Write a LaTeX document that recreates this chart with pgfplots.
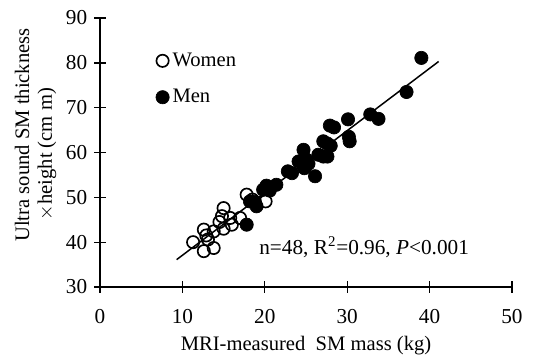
\documentclass[border=0pt]{standalone}
\usepackage{fontspec}
\setmainfont{Liberation Serif}
\usepackage{pgfplots}
\pgfplotsset{compat=1.18}
\begin{document}
\fontsize{12}{14}\selectfont
\begin{tikzpicture}
\begin{axis}[
  name=ax,
  scale only axis,
  width=247.2bp, height=161.4bp,
  xmin=0, xmax=50, ymin=30, ymax=90,
  axis x line=bottom, axis y line=left,
  axis line style={-, line width=0.8pt},
  xtick={0,10,...,50}, ytick={30,40,...,90},
  tick align=center,
  major tick length=7pt,
  tick style={line width=0.8pt, black},
  /pgf/number format/assume math mode=true,
  every tick label/.append style={font=\fontsize{12.8}{14}\selectfont},
  xticklabel style={yshift=-6pt},
  xlabel={MRI-measured\ \ SM mass (kg)},
  xlabel style={yshift=1pt, font=\fontsize{12.4}{14}\selectfont},
  legend style={draw=none, fill=none, at={(0.135,0.885)}, anchor=north west,
    row sep=8pt, inner sep=0pt, font=\fontsize{12.4}{14}\selectfont},
  legend cell align=left,
  clip=false,
]
\addplot[black, line width=0.9pt, forget plot] coordinates {(9.3,36.1) (41.1,80.3)};
\addplot[only marks, mark=o, mark size=3.7pt, mark options={line width=1pt, black}] coordinates {
(11.3,40.0) (12.6,42.8) (12.6,38.0) (13.1,40.6) (13.8,38.7) (13.8,42.4)
(12.9,41.5) (14.8,45.8) (15.0,47.6) (15.0,43.0) (15.8,45.4) (16.0,43.9)
(17.0,45.4) (17.8,50.6) (20.1,49.1) (14.5,44.5) (18.5,49.5)
};
\addlegendentry{Women}
\addplot[only marks, mark=*, mark size=4pt, mark options={black, fill=black}] coordinates {
(39.0,81.1) (37.2,73.5) (33.8,67.5) (32.8,68.5) (30.1,67.4) (30.3,62.5)
(30.2,63.5) (27.9,66.0) (28.4,65.6) (27.1,62.5) (27.6,62.0) (27.1,59.1)
(27.6,59.1) (26.1,54.7) (24.7,60.6) (24.1,58.0) (24.8,56.5) (25.0,58.5)
(23.3,55.4) (21.4,52.8) (20.2,52.6) (19.8,51.7) (18.2,49.1) (19.0,48.0)
(17.8,43.9) (22.8,55.8) (25.3,57.5) (20.6,51.5) (18.8,49.0) (26.5,59.5)
(28.0,61.5)
};
\addlegendentry{Men}
\node[anchor=west, inner sep=0pt, font=\fontsize{12.8}{14}\selectfont] at (axis cs:19.3,38.9) {n=48, R\textsuperscript{2}=0.96, \textit{P}<0.001};
\node[rotate=90, inner sep=0pt, font=\fontsize{12.4}{14}\selectfont] at (axis description cs:-0.189,0.565) {Ultra sound SM thickness};
\node[rotate=90, inner sep=0pt, font=\fontsize{12.4}{14}\selectfont] at (axis description cs:-0.129,0.494) {$\times$height (cm m)};
\end{axis}
\path ([shift={(-60bp,-42.6bp)}]ax.south west) rectangle ([shift={(16.2bp,10.8bp)}]ax.north east);
\end{tikzpicture}
\end{document}
